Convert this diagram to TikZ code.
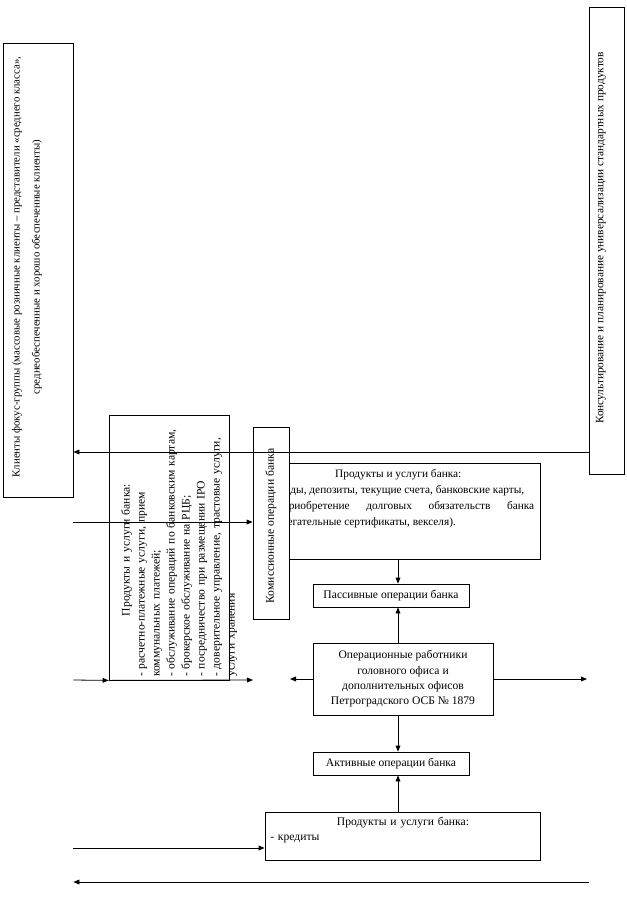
\documentclass[tikz,border=0pt]{standalone}
\usepackage{fontspec}
\setmainfont{Liberation Serif}
\usetikzlibrary{arrows.meta}
\begin{document}
\begin{tikzpicture}[x=0.75pt,y=-0.75pt,
  every node/.style={font=\fontsize{8.7}{11.5}\selectfont},
  box/.style={draw, line width=0.6pt, fill=white, inner sep=0pt},
  bx/.style n args={4}{box, minimum width={(#3-#1)*0.75pt}, minimum height={(#4-#2)*0.75pt}, at={({(#1+#3)/2},{(#2+#4)/2})}},
  arr/.style={line width=0.6pt, -{Triangle[length=4.5pt,width=3.6pt]}},
  rtxt/.style={rotate=90, inner sep=0pt}
]
\useasboundingbox (0,0) rectangle (626,908);
\coordinate (a452) at (0,452);
\coordinate (a522) at (0,522);
\coordinate (a680) at (0,680);
\coordinate (a848) at (0,848);
\coordinate (a882) at (0,882);
\coordinate (vx) at (398,0);
\coordinate (c253) at (253,680);
\coordinate (c290) at (290,679);
\coordinate (c587) at (587,679);

\node[bx={3}{43}{73}{497}] (L) {};
\node[rtxt, align=center, font=\fontsize{8.1}{15}\selectfont] (Ltxt) at (27,267)
  {Клиенты фокус-группы (массовые розничные клиенты – представители «среднего класса»,\\среднеобеспеченные и хорошо обеспеченные клиенты)};

\node[bx={589}{7}{624}{474}] (R) {};
\node[rtxt, font=\fontsize{8.5}{11}\selectfont] (Rtxt) at (601,238) {Консультирование и планирование универсализации стандартных продуктов};

\node[bx={109}{415}{229}{680}] (P1) {};
\node[rtxt, anchor=north west, text width=190pt, align=left, font=\fontsize{8.7}{11.25}\selectfont] (P1txt) at (121,677)
  {{\centering Продукты и услуги банка:\par}
   - расчетно-платежные услуги, прием\\
   коммунальных платежей;\\
   - обслуживание операций по банковским картам,\\
   - брокерское обслуживание на РЦБ;\\
   - посредничество при размещении IPO\\
   - доверительное управление, трастовые услуги,\\
   услуги хранения};

\node[bx={258}{463}{540}{559}] (P2) {};
\node[anchor=north west, inner sep=0pt, text width=204pt, align=justify, font=\fontsize{8.5}{12}\selectfont] (P2txt) at (262,469)
  {{\centering Продукты и услуги банка:\par}- вклады, депозиты, текущие счета, банковские карты,\\- приобретение долговых обязательств банка\linebreak (сберегательные сертификаты, векселя).};

\node[bx={253}{427}{289}{619}] (K) {};
\node[rtxt] (Ktxt) at (271,526) {Комиссионные операции банка};

\node[bx={313}{584}{469}{607}] (Pas) {Пассивные операции банка};
\node[bx={313}{643}{493}{715}, align=center] (Ops) {Операционные работники\\головного офиса и\\дополнительных офисов\\Петроградского ОСБ № 1879};
\node[bx={313}{752}{469}{775}] (Act) {Активные операции банка};

\node[bx={265}{812}{540}{860}] (P3) {};
\node[anchor=north west, inner sep=0pt, text width=199pt, align=left] (P3txt) at (270,817)
  {{\centering Продукты и услуги банка:\par}- кредиты};

\draw[arr] (R.west |- a452) -- (L.east |- a452);
\draw[arr] (L.east |- a522) -- (K.west |- a522);
\draw[arr] (L.east |- a680) -- (P1.south west);
\draw[arr] (P1.south west) -- (c253);
\draw[arr] (Ops.west) -- (c290);
\draw[arr] (Ops.east) -- (c587);
\draw[arr] (P2.south -| vx) -- (Pas.north -| vx);
\draw[arr] (Ops.north -| vx) -- (Pas.south -| vx);
\draw[arr] (Ops.south -| vx) -- (Act.north -| vx);
\draw[arr] (P3.north -| vx) -- (Act.south -| vx);
\draw[arr] (L.east |- a848) -- (P3.west |- a848);
\draw[arr] (R.west |- a882) -- (L.east |- a882);
\end{tikzpicture}
\end{document}
